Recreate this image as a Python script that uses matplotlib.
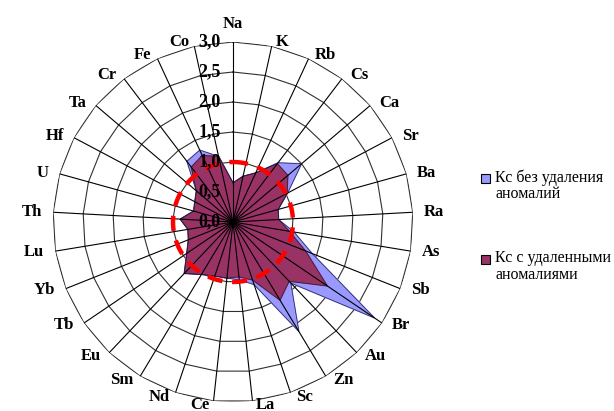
import numpy as np
import matplotlib
matplotlib.use('Agg')
import matplotlib.pyplot as plt
from matplotlib.patches import Rectangle

# categories clockwise from the top
elements = ['Na', 'K', 'Rb', 'Cs', 'Ca', 'Sr', 'Ba', 'Ra', 'As', 'Sb', 'Br', 'Au', 'Zn',
            'Sc', 'La', 'Ce', 'Nd', 'Sm', 'Eu', 'Tb', 'Yb', 'Lu', 'Th', 'U', 'Hf', 'Ta',
            'Cr', 'Fe', 'Co']

# Kc without removing anomalies
kc_all = [0.65, 0.78, 0.90, 1.24, 1.50, 1.03, 0.78, 0.76, 1.03, 1.42, 2.85, 1.40, 2.13,
          1.10, 0.97, 0.94, 0.95, 1.02, 1.18, 0.93, 0.80, 0.76, 0.88, 0.68, 0.72, 0.80,
          1.27, 1.32, 1.12]
# Kc with anomalies removed
kc_clean = [0.65, 0.78, 0.90, 1.22, 1.20, 1.02, 0.78, 0.76, 0.95, 1.30, 1.90, 1.36, 1.52,
            1.02, 0.92, 0.94, 0.95, 1.02, 1.18, 0.93, 0.80, 0.76, 0.88, 0.68, 0.72, 0.80,
            1.15, 1.22, 1.12]

ring_values = [0.5, 1.0, 1.5, 2.0, 2.5, 3.0]
ring_labels = ['0,0', '0,5', '1,0', '1,5', '2,0', '2,5', '3,0']
threshold = 1.0

legend_labels = ['Кс без удаления\nаномалий', 'Кс с удаленными\nаномалиями']
color_all = '#9999FF'
color_clean = '#993366'

W, H = 614, 411
fig = plt.figure(figsize=(W / 100, H / 100), dpi=100)
cx, cy, R = 233, 222, 180
ax = fig.add_axes([(cx - R) / W, (H - cy - R) / H, 2 * R / W, 2 * R / H], projection='polar')
ax.set_theta_zero_location('N')
ax.set_theta_direction(-1)
ax.set_ylim(0, 3.0)
ax.grid(False)
ax.spines['polar'].set_visible(False)
ax.set_xticks([])
ax.set_yticks([])
ax.patch.set_alpha(0)

n = len(elements)
theta = np.arange(n) * 2 * np.pi / n
closed = np.append(theta, theta[0])

# polygon rings under the data
for v in ring_values:
    ax.plot(closed, [v] * (n + 1), color='#303030', lw=0.8, zorder=1)

for vals, col in [(kc_all, color_all), (kc_clean, color_clean)]:
    r = np.append(vals, vals[0])
    ax.fill(closed, r, color=col, zorder=2)
    ax.plot(closed, r, color='#202040', lw=0.5, zorder=3)

# spokes on top of the fills
for t in theta:
    ax.plot([t, t], [0, 3.0], color='black', lw=0.8, zorder=4)

# threshold circle
tc = np.linspace(0, 2 * np.pi, 400)
circ, = ax.plot(tc, [threshold] * len(tc), color='red', lw=3.2, zorder=5)
circ.set_dashes([3.4, 2.2])

font = dict(family='Liberation Serif', fontweight='bold', fontsize=12)

for i, v in enumerate([0.0] + ring_values):
    ax.annotate(ring_labels[i], xy=(0, v), xytext=(-9, 0), textcoords='offset points',
                ha='right', va='center', zorder=6, family='Liberation Serif',
                fontweight='bold', fontsize=13)

for t, name in zip(theta, elements):
    s, c = np.sin(t), np.cos(t)
    if abs(s) < 0.05:
        ha = 'center'
        va = 'bottom' if c > 0 else 'top'
        off = (0, 7 * np.sign(c))
    else:
        ha = 'left' if s > 0 else 'right'
        va = 'center'
        off = (6 * s + 2 * np.sign(s), 3 * c)
    ax.annotate(name, xy=(t, 3.0), xytext=off, textcoords='offset points',
                ha=ha, va=va, annotation_clip=False, **font)

# legend drawn by hand to keep the two-line layout
for (ytop, lab, col) in [(174, legend_labels[0], color_all), (255, legend_labels[1], color_clean)]:
    fig.patches.append(Rectangle((481 / W, 1 - (ytop + 9) / H), 9 / W, 9 / H,
                                 transform=fig.transFigure, facecolor=col,
                                 edgecolor='black', lw=0.8))
    fig.text(495 / W, 1 - (ytop - 5) / H, lab, ha='left', va='top',
             family='Liberation Serif', fontsize=11.5, linespacing=1.05)

fig.savefig('out.png', dpi=100)
